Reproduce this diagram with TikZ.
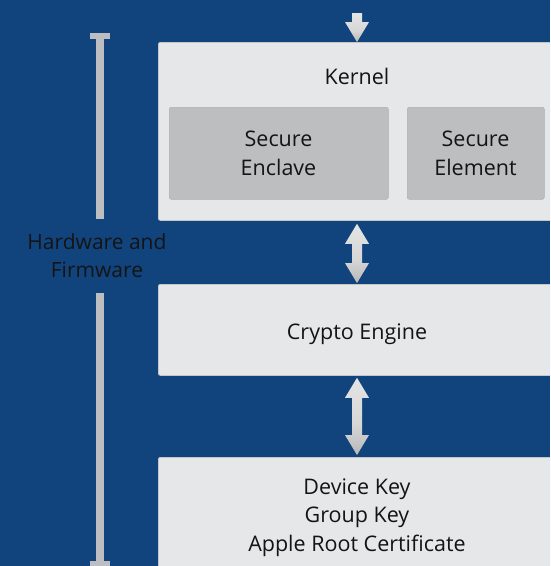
\documentclass[tikz,border=0pt]{standalone}
\usepackage{fontspec}
\setmainfont{Open Sans}
\usetikzlibrary{calc}

\definecolor{bgblue}{RGB}{17,68,124}
\definecolor{panelfill}{RGB}{230,231,232}
\definecolor{paneledge}{RGB}{196,198,201}
\definecolor{chipfill}{RGB}{188,190,192}
\definecolor{barcol}{RGB}{188,190,194}
\definecolor{inktext}{RGB}{20,20,22}

% light at the top, darkening towards the lower tip
\pgfdeclareverticalshading{arrowshade}{100bp}{%
  color(0bp)=(black!62);
  color(18bp)=(black!32);
  color(45bp)=(black!16);
  color(100bp)=(black!6)}

% block arrow with heads at both ends, between two points (top, bottom)
\newcommand\twowayarrow[2]{%
  \path[shading=arrowshade] let \p1=(#1), \p2=(#2) in
    (\x1,\y1) -- (\x1+12pt,\y1-20pt) -- (\x1+5pt,\y1-20pt)
    -- (\x2+5pt,\y2+20pt) -- (\x2+12pt,\y2+20pt) -- (\x2,\y2)
    -- (\x2-12pt,\y2+20pt) -- (\x2-5pt,\y2+20pt)
    -- (\x1-5pt,\y1-20pt) -- (\x1-12pt,\y1-20pt) -- cycle;}

% block arrow with a single head at the lower end
\newcommand\feedarrow[2]{%
  \path[shading=arrowshade] let \p1=(#1), \p2=(#2) in
    (\x1-5pt,\y1) -- (\x1+5pt,\y1) -- (\x2+5pt,\y2+20pt)
    -- (\x2+12pt,\y2+20pt) -- (\x2,\y2) -- (\x2-12pt,\y2+20pt)
    -- (\x2-5pt,\y2+20pt) -- cycle;}

\begin{document}
\begin{tikzpicture}[x=1pt,y=-1pt,
  panel/.style={draw=paneledge,line width=0.8pt,fill=panelfill,rounded corners=2pt,
    anchor=north west,inner sep=0pt},
  chip/.style={fill=chipfill,rounded corners=2pt,anchor=north west,inner sep=0pt,
    draw=chipfill!92!black,line width=0.5pt},
  label/.style={text=inktext,font=\fontsize{21.5}{28.5}\selectfont,align=center,
    inner sep=0pt,anchor=base},
  sidelabel/.style={text=inktext,font=\fontsize{21}{28}\selectfont,align=center,
    inner sep=0pt,anchor=base},
  bar/.style={fill=barcol}]

\useasboundingbox (0,0) rectangle (550,566);
\clip (0,0) rectangle (550,566);
\fill[bgblue] (0,0) rectangle (550,566);

% stack of layers
\node[panel,minimum width=420pt,minimum height=178pt] (kernel) at (158,42) {};
\node[panel,minimum width=420pt,minimum height=91pt] (crypto) at (158,284) {};
\node[panel,minimum width=420pt,minimum height=130pt] (keys) at (158,457) {};

\node[chip,minimum width=219pt,minimum height=92pt] (enclave) at (169,107) {};
\node[chip,minimum width=137pt,minimum height=92pt] (element) at (407,107) {};

% labels, placed by the baseline of their last line
\node[label] (kernellbl) at (357,84) {Kernel};
\node[label] (enclavelbl) at (278.5,175) {Secure\\Enclave};
\node[label] (elementlbl) at (475.5,175) {Secure\\Element};
\node[label] (cryptolbl) at (357,339) {Crypto Engine};
\node[label] (keyslbl) at (357,551) {Device Key\\Group Key\\Apple Root Certificate};

% arrows along the centre line of the stack
\coordinate (axis) at (357,0);
\coordinate (src) at (357,13);
\feedarrow{src}{kernel.north -| axis}
\twowayarrow{$(kernel.south -| axis)+(0,3)$}{$(crypto.north -| axis)+(0,-1)$}
\twowayarrow{$(crypto.south -| axis)+(0,2)$}{$(keys.north -| axis)+(0,-2)$}

% extent bracket on the left
\node[sidelabel] (hwlbl) at (97,277) {Hardware and\\Firmware};
\fill[bar] (90,33) rectangle (110,39);
\fill[bar] (96,33) rectangle (104,219);
\fill[bar] (96,293) rectangle (104,567);
\fill[bar] (90,561) rectangle (110,567);
\end{tikzpicture}
\end{document}
